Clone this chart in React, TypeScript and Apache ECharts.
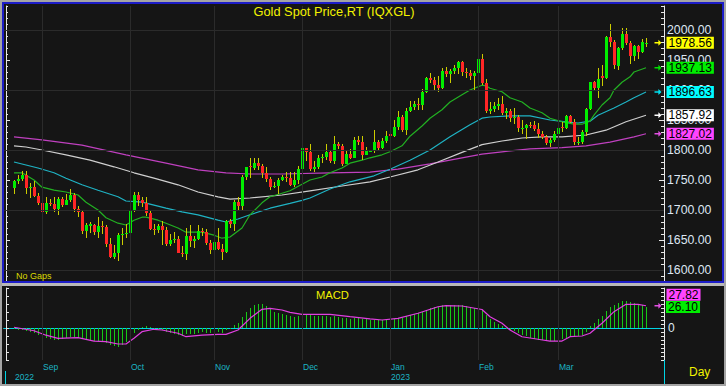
import React, { useEffect, useRef } from "react";
import * as echarts from "echarts";

const FONT = "'Liberation Sans', Arial, Helvetica, sans-serif";

const TITLE = "Gold Spot Price,RT (IQXGL)";
const NOTE = "No Gaps";
const MACD_TITLE = "MACD";
const PERIOD = "Day";
const MONTHS = ["Jan", "Feb", "Mar", "Apr", "May", "Jun", "Jul", "Aug", "Sep", "Oct", "Nov", "Dec"];

// first and last trading day shown (month is 0-based)
const FIRST_DAY = [2022, 7, 23];
const LAST_DAY = [2023, 2, 31];

// daily candles [open, close, low, high]
const OHLC: number[][] = [
  // Aug 2022
  [1736, 1748, 1727, 1750], [1748, 1751, 1743, 1759], [1751, 1758, 1748, 1765], [1758, 1737, 1727, 1765],
  [1737, 1738, 1720, 1745], [1738, 1724, 1721, 1748], [1724, 1711, 1708, 1729],
  // Sep
  [1711, 1697, 1688, 1714], [1697, 1712, 1693, 1721], [1712, 1710, 1706, 1718], [1710, 1702, 1696, 1722],
  [1702, 1718, 1692, 1721], [1718, 1708, 1705, 1722], [1708, 1716, 1708, 1726], [1716, 1725, 1713, 1735],
  [1725, 1702, 1697, 1729], [1702, 1697, 1689, 1707], [1697, 1665, 1660, 1700], [1665, 1675, 1654, 1679],
  [1674, 1676, 1662, 1680], [1675, 1664, 1659, 1677], [1664, 1673, 1654, 1688], [1673, 1671, 1660, 1681],
  [1671, 1644, 1639, 1675], [1644, 1622, 1620, 1654], [1622, 1628, 1618, 1641], [1628, 1659, 1615, 1661],
  [1659, 1660, 1642, 1670], [1660, 1661, 1653, 1676],
  // Oct
  [1661, 1699, 1659, 1702], [1699, 1725, 1697, 1730], [1725, 1716, 1707, 1730], [1716, 1712, 1705, 1722],
  [1712, 1695, 1690, 1722], [1695, 1668, 1666, 1698], [1668, 1666, 1658, 1677], [1666, 1673, 1661, 1677],
  [1673, 1666, 1642, 1682], [1666, 1644, 1640, 1672], [1644, 1650, 1640, 1660], [1650, 1652, 1645, 1663],
  [1652, 1629, 1628, 1656], [1629, 1627, 1621, 1640], [1627, 1657, 1617, 1670], [1657, 1649, 1638, 1675],
  [1649, 1652, 1637, 1657], [1652, 1665, 1650, 1675], [1665, 1663, 1656, 1670], [1663, 1645, 1641, 1668],
  [1645, 1634, 1627, 1650],
  // Nov
  [1634, 1647, 1630, 1655], [1647, 1635, 1633, 1670], [1635, 1630, 1616, 1644], [1630, 1681, 1628, 1683],
  [1681, 1676, 1670, 1685], [1676, 1713, 1665, 1716], [1713, 1706, 1699, 1722], [1706, 1755, 1700, 1758],
  [1755, 1771, 1750, 1772], [1773, 1771, 1753, 1786], [1770, 1779, 1766, 1787], [1779, 1774, 1766, 1786],
  [1774, 1761, 1754, 1776], [1761, 1751, 1747, 1771], [1751, 1738, 1734, 1755], [1738, 1740, 1736, 1746],
  [1740, 1750, 1727, 1754], [1750, 1755, 1748, 1759], [1755, 1754, 1746, 1763], [1754, 1741, 1740, 1764],
  [1741, 1750, 1739, 1763], [1750, 1768, 1744, 1773],
  // Dec
  [1768, 1803, 1765, 1805], [1803, 1797, 1781, 1804], [1797, 1769, 1765, 1810], [1769, 1771, 1764, 1782],
  [1771, 1787, 1768, 1791], [1787, 1789, 1779, 1794], [1789, 1797, 1783, 1810], [1797, 1781, 1778, 1800],
  [1781, 1810, 1777, 1824], [1810, 1807, 1801, 1814], [1807, 1777, 1773, 1810], [1777, 1793, 1776, 1798],
  [1793, 1787, 1785, 1802], [1787, 1817, 1786, 1822], [1817, 1814, 1809, 1823], [1814, 1792, 1784, 1823],
  [1792, 1798, 1792, 1805], [1798, 1798, 1796, 1799], [1798, 1813, 1795, 1833], [1813, 1804, 1798, 1816],
  [1804, 1815, 1802, 1820], [1815, 1824, 1812, 1832],
  // Jan 2023
  [1826, 1824, 1822, 1830], [1824, 1839, 1822, 1850], [1839, 1855, 1833, 1865], [1855, 1833, 1830, 1858],
  [1833, 1865, 1825, 1870], [1865, 1872, 1864, 1881], [1872, 1877, 1867, 1882], [1877, 1875, 1867, 1886],
  [1875, 1896, 1867, 1902], [1896, 1920, 1895, 1922], [1920, 1916, 1911, 1929], [1916, 1908, 1900, 1921],
  [1908, 1904, 1896, 1923], [1904, 1932, 1901, 1936], [1932, 1926, 1922, 1938], [1926, 1931, 1911, 1935],
  [1931, 1937, 1926, 1942], [1937, 1946, 1926, 1949], [1946, 1930, 1924, 1949], [1930, 1928, 1920, 1936],
  [1928, 1923, 1917, 1933], [1923, 1928, 1900, 1931],
  // Feb
  [1928, 1951, 1920, 1959], [1951, 1912, 1908, 1960], [1912, 1865, 1861, 1918], [1865, 1868, 1860, 1880],
  [1868, 1873, 1864, 1880], [1873, 1876, 1866, 1886], [1876, 1861, 1858, 1890], [1861, 1865, 1852, 1870],
  [1865, 1853, 1847, 1868], [1853, 1855, 1843, 1870], [1855, 1836, 1830, 1859], [1836, 1836, 1826, 1850],
  [1836, 1842, 1819, 1844], [1842, 1841, 1837, 1847], [1841, 1835, 1832, 1848], [1835, 1826, 1820, 1845],
  [1826, 1822, 1818, 1832], [1822, 1811, 1808, 1825], [1811, 1817, 1805, 1820], [1817, 1826, 1813, 1832],
  // Mar
  [1826, 1836, 1814, 1841], [1838, 1836, 1830, 1846], [1836, 1856, 1835, 1858], [1856, 1847, 1845, 1858],
  [1847, 1813, 1809, 1852], [1813, 1814, 1809, 1822], [1814, 1830, 1810, 1833], [1830, 1868, 1824, 1870],
  [1868, 1913, 1866, 1914], [1913, 1903, 1898, 1915], [1903, 1918, 1886, 1937], [1923, 1920, 1907, 1941],
  [1920, 1989, 1918, 1990], [1988, 1980, 1971, 2010], [1980, 1942, 1935, 1984], [1940, 1970, 1934, 1972],
  [1970, 1993, 1967, 2003], [1993, 1978, 1975, 2004], [1978, 1957, 1944, 1981], [1957, 1973, 1949, 1975],
  [1973, 1964, 1952, 1975], [1964, 1980, 1962, 1985], [1976, 1978.56, 1972, 1987],
];

// moving averages: [bar index, value]
const MA_GREEN: number[][] = [
  [0, 1762], [2, 1762], [5, 1750], [7, 1738], [10, 1733], [13, 1730], [16, 1725], [18, 1713], [21, 1700],
  [23, 1687], [26, 1678], [28, 1675], [30, 1683], [32, 1688], [33, 1688], [36, 1683], [38, 1678], [41, 1670],
  [43, 1663], [47, 1663], [50, 1658], [52, 1653], [54, 1655], [57, 1670], [59, 1692], [62, 1712], [64, 1722],
  [67, 1728], [69, 1732], [72, 1743], [74, 1750], [77, 1755], [79, 1762], [82, 1770], [84, 1778], [87, 1783],
  [89, 1787], [92, 1792], [94, 1797], [97, 1807], [99, 1823], [102, 1840], [104, 1853], [107, 1867], [109, 1880],
  [112, 1892], [114, 1900], [117, 1908], [118, 1907], [119, 1903], [122, 1897], [124, 1887], [127, 1880],
  [129, 1870], [132, 1862], [134, 1853], [137, 1847], [140, 1843], [142, 1843], [144, 1848], [145, 1858],
  [147, 1875], [149, 1887], [150, 1900], [152, 1913], [154, 1922], [155, 1930], [158, 1937.13],
];
const MA_CYAN: number[][] = [
  [0, 1780], [3, 1775], [6, 1770], [10, 1762], [13, 1753], [17, 1742], [21, 1733], [26, 1722], [28, 1715],
  [32, 1713], [35, 1708], [38, 1703], [42, 1697], [46, 1692], [51, 1683], [53, 1680], [56, 1685], [59, 1692],
  [64, 1703], [69, 1711], [72, 1716], [74, 1720], [79, 1735], [84, 1747], [90, 1757], [94, 1768], [99, 1783],
  [104, 1800], [109, 1822], [114, 1842], [117, 1853], [119, 1855], [124, 1857], [129, 1857], [134, 1850],
  [138, 1847], [141, 1845], [144, 1848], [146, 1858], [150, 1870], [153, 1880], [155, 1887], [158, 1896.63],
];
const MA_WHITE: number[][] = [
  [0, 1807], [3, 1805], [7, 1800], [13, 1792], [19, 1783], [25, 1772], [30, 1762], [35, 1753], [41, 1742],
  [46, 1730], [51, 1722], [54, 1718], [59, 1720], [67, 1725], [74, 1732], [82, 1740], [89, 1747], [94, 1755],
  [101, 1767], [106, 1780], [112, 1796], [117, 1809], [122, 1815], [127, 1820], [132, 1822], [137, 1822],
  [143, 1825], [148, 1833], [153, 1847], [158, 1857.92],
];
const MA_MAGENTA: number[][] = [
  [0, 1822], [7, 1817], [17, 1808], [28, 1792], [38, 1778], [46, 1767], [53, 1762], [59, 1760], [67, 1760],
  [79, 1762], [89, 1763], [96, 1768], [104, 1777], [112, 1787], [117, 1793], [122, 1797], [129, 1802],
  [137, 1804], [143, 1807], [149, 1813], [155, 1822], [158, 1827.02],
];

// MACD histogram, one value per bar
const MACD_HIST: number[] = [
  -1.3, -2.5, -2.5, -3.8, -5, -6.3, -8.8, -11.3, -12.5, -13.8, -15, -15, -13.8, -12.5, -11.3, -11.3, -12.5,
  -13.8, -15, -15, -16.3, -16.3, -17.5, -18.8, -21.3, -22.5, -23.8, -21.3, -17.5, -12.5, -6.3, -2.5, 1.3, 2.5,
  1.3, 0.3, -1.3, -2.5, -5, -6.3, -7.5, -8.8, -10, -7.5, -7.5, -7.5, -6.3, -5, -6.3, -6.3, -5, -5, -6.3, -2.5,
  0.3, 3.8, 6.3, 13.8, 20, 25, 28.8, 30, 30, 27.5, 23.8, 20, 18.8, 17.5, 16.3, 15, 13.8, 15, 17.5, 17.5, 16.3,
  15, 15, 15, 15, 13.8, 15, 13.8, 12.5, 12.5, 11.3, 12.5, 12.5, 11.3, 11.3, 10, 10, 10, 10, 10, 10, 11.3, 12.5,
  12.5, 15, 16.3, 17.5, 18.8, 20, 22.5, 25, 26.3, 26.3, 28.8, 28.8, 28.8, 28.8, 28.8, 28.8, 27.5, 26.3, 25, 25,
  22.5, 16.3, 11.3, 7.5, 5, 2.5, 0.3, -2.5, -3.8, -6.3, -8.8, -10, -12.5, -13.8, -15, -15, -16.3, -16.3, -16.3,
  -15, -13.8, -12.5, -11.3, -11.3, -10, -8.8, -5, 2.5, 6.3, 11.3, 15, 21.3, 26.3, 28.8, 31.3, 33.8, 33.8, 32.5,
  31.3, 30, 28.8, 26.1,
];
// MACD signal line: [bar index, value]
const MACD_SIGNAL: number[][] = [
  [0, 0.9], [5, -3.4], [8, -9], [11, -13], [16, -12.1], [20, -16.3], [23, -17.1], [26, -20], [28, -20],
  [30, -12.9], [32, -4.6], [35, -1.6], [37, -2.5], [41, -6.6], [43, -10.9], [47, -8.8], [51, -7.9], [53, -7.9],
  [56, -2.5], [59, 12.1], [62, 23.4], [64, 24.6], [67, 22.5], [69, 19.6], [72, 17.1], [79, 17.1], [84, 14.1],
  [89, 11.3], [92, 10], [96, 12.1], [101, 18.4], [106, 26.6], [108, 27.9], [112, 27.5], [117, 23.1], [119, 14.1],
  [122, 5.9], [124, -2.5], [127, -10.9], [131, -14.1], [134, -16.3], [137, -16.3], [139, -10.9], [142, -10],
  [144, -6.6], [147, 5.9], [150, 20.4], [153, 29.6], [156, 29.6], [158, 27.82],
];

const PRICE_TICKS = [1600, 1650, 1700, 1750, 1800, 1850, 1900, 1950, 2000];
const PRICE_GRID = [1600, 1700, 1800, 1900, 2000];

const LEAD = 2;
const TRAIL = 4;

const BG = "#151515";
const GRID_C = "#2b2b2b";
const UP = "#00ee00";
const DOWN = "#ff2626";
const WICK = "#cccc00";
const AXIS = "#e8e8e8";
const LABEL_C = "#dde7f3";
const CYAN_TXT = "#1cb4c4";
const CYAN_LINE = "#00d4e4";
const YEL = "#f2f200";
const ARROW = "path://M0,3L5,3L5,0L9,4L5,8L5,5L0,5Z";

function tradingDays(): Date[] {
  const out: Date[] = [];
  const d = new Date(Date.UTC(FIRST_DAY[0], FIRST_DAY[1], FIRST_DAY[2]));
  const end = new Date(Date.UTC(LAST_DAY[0], LAST_DAY[1], LAST_DAY[2]));
  while (d <= end) {
    const wd = d.getUTCDay();
    if (wd !== 0 && wd !== 6) out.push(new Date(d.getTime()));
    d.setUTCDate(d.getUTCDate() + 1);
  }
  return out;
}

function buildOption() {
  const days = tradingDays();
  const cats: string[] = [];
  for (let k = 0; k < LEAD; k++) cats.push("lead" + k);
  days.forEach((d) => cats.push(d.toISOString().slice(0, 10)));
  for (let k = 0; k < TRAIL; k++) cats.push("trail" + k);

  const monthLabel: Record<number, string> = {};
  const yearLabel: Record<number, string> = {};
  const monthStarts: number[] = [];
  let yearTick = -1;
  days.forEach((d, k) => {
    const j = k + LEAD;
    if (k === 0) {
      yearLabel[j] = String(d.getUTCFullYear());
      return;
    }
    const p = days[k - 1];
    if (p.getUTCMonth() !== d.getUTCMonth()) {
      monthStarts.push(j);
      monthLabel[j] = MONTHS[d.getUTCMonth()];
    }
    if (p.getUTCFullYear() !== d.getUTCFullYear()) {
      yearTick = j;
      yearLabel[j] = String(d.getUTCFullYear());
    }
  });

  const badgeJ = cats.length - 2;
  const lastClose = OHLC[OHLC.length - 1][1];

  const badge = (value: number, arrowColor: string, bg: string, text: string, dy = 0, showArrow = true) => ({
    silent: true,
    symbol: ARROW,
    symbolSize: showArrow ? [7, 6] : 0,
    itemStyle: { color: arrowColor },
    animation: false,
    data: [{ coord: [badgeJ, value] }],
    label: {
      show: true,
      position: "right",
      distance: showArrow ? 5 : 8,
      offset: [0, dy],
      formatter: () => text,
      color: "#000",
      backgroundColor: bg,
      fontSize: 12,
      fontFamily: FONT,
      padding: [1, 2, 0, 2],
      lineHeight: 11,
    },
  });

  const maSeries = (name: string, pts: number[][], color: string, arrow: string, bg: string) => ({
    name,
    type: "line",
    xAxisIndex: 0,
    yAxisIndex: 0,
    data: pts.map(([i, v]) => [i + LEAD, v]),
    symbol: "none",
    showSymbol: false,
    silent: true,
    z: 2,
    lineStyle: { color, width: 1.2 },
    markPoint: badge(pts[pts.length - 1][1], arrow, bg, pts[pts.length - 1][1].toFixed(2)),
  });

  const gridMark = (withH: boolean) => ({
    silent: true,
    symbol: ["none", "none"],
    label: { show: false },
    animation: false,
    lineStyle: { color: GRID_C, width: 1, type: "solid" },
    emphasis: { disabled: true },
    data: [
      ...(withH ? PRICE_GRID.map((v) => ({ yAxis: v })) : []),
      ...monthStarts.map((j) => ({ xAxis: cats[j] })),
    ],
  });

  const hiddenX = {
    type: "category",
    data: cats,
    boundaryGap: true,
    axisLine: { show: false },
    axisTick: { show: false },
    axisLabel: { show: false },
    splitLine: { show: false },
  };

  return {
    animation: false,
    backgroundColor: BG,
    grid: [
      { left: 4, right: 62, top: 6, height: 276, containLabel: false },
      { left: 4, right: 62, top: 288, height: 72, containLabel: false },
    ],
    xAxis: [
      { ...hiddenX, gridIndex: 0 },
      {
        ...hiddenX,
        gridIndex: 1,
        axisLine: { show: true, lineStyle: { color: AXIS, width: 1 } },
        axisTick: {
          show: true,
          alignWithLabel: true,
          length: 11,
          interval: (i: number) => monthLabel[i] !== undefined,
          lineStyle: { color: CYAN_LINE },
        },
        axisLabel: {
          show: true,
          interval: (i: number) => monthLabel[i] !== undefined,
          formatter: (_v: string, i: number) => monthLabel[i] || "",
          align: "left",
          margin: 2,
          padding: [0, 0, 0, 1],
          color: CYAN_TXT,
          fontSize: 8.5,
          fontFamily: FONT,
        },
      },
      {
        ...hiddenX,
        gridIndex: 1,
        position: "bottom",
        offset: 11,
        axisLine: { show: true, lineStyle: { color: CYAN_LINE, width: 1 } },
        axisTick: {
          show: true,
          alignWithLabel: true,
          length: 15,
          interval: (i: number) => i === yearTick,
          lineStyle: { color: CYAN_LINE },
        },
        axisLabel: {
          show: true,
          interval: (i: number) => yearLabel[i] !== undefined,
          formatter: (_v: string, i: number) => yearLabel[i] || "",
          align: "left",
          margin: 1,
          padding: [0, 0, 0, 1],
          color: CYAN_TXT,
          fontSize: 8.5,
          fontFamily: FONT,
        },
      },
    ],
    yAxis: [
      {
        type: "value",
        gridIndex: 0,
        position: "right",
        min: 1580,
        max: 2040,
        axisLine: { show: true, lineStyle: { color: AXIS } },
        axisTick: { show: true, inside: true, length: 5, customValues: PRICE_TICKS, lineStyle: { color: AXIS } },
        axisLabel: {
          show: true,
          customValues: PRICE_TICKS,
          formatter: (v: number) => (v % 50 === 0 ? v.toFixed(2) : ""),
          color: LABEL_C,
          fontSize: 12.3,
          fontFamily: FONT,
          margin: 3,
        },
        splitLine: { show: false },
      },
      {
        type: "value",
        gridIndex: 0,
        position: "right",
        min: 1580,
        max: 2040,
        interval: 10,
        axisLine: { show: false },
        axisTick: { show: true, inside: true, length: 3, lineStyle: { color: AXIS } },
        axisLabel: { show: false },
        splitLine: { show: false },
      },
      {
        type: "value",
        gridIndex: 0,
        position: "left",
        offset: -2,
        min: 1580,
        max: 2040,
        axisLine: { show: true, lineStyle: { color: AXIS } },
        axisTick: { show: true, inside: true, length: 4, customValues: PRICE_TICKS, lineStyle: { color: AXIS } },
        axisLabel: { show: false },
        splitLine: { show: false },
      },
      {
        type: "value",
        gridIndex: 0,
        position: "left",
        offset: -2,
        min: 1580,
        max: 2040,
        interval: 10,
        axisLine: { show: false },
        axisTick: { show: true, inside: true, length: 2, lineStyle: { color: AXIS } },
        axisLabel: { show: false },
        splitLine: { show: false },
      },
      {
        type: "value",
        gridIndex: 1,
        position: "left",
        offset: -2,
        min: -40,
        max: 50,
        interval: 10,
        axisLine: { show: true, lineStyle: { color: AXIS } },
        axisTick: { show: true, inside: true, length: 3, lineStyle: { color: AXIS } },
        axisLabel: { show: false },
        splitLine: { show: false },
      },
      {
        type: "value",
        gridIndex: 1,
        position: "right",
        min: -40,
        max: 50,
        interval: 5,
        axisLine: { show: true, lineStyle: { color: AXIS } },
        axisTick: { show: true, inside: true, length: 3, lineStyle: { color: AXIS } },
        axisLabel: {
          show: true,
          customValues: [0],
          formatter: (v: number) => (v === 0 ? "0" : ""),
          color: LABEL_C,
          fontSize: 12,
          fontFamily: FONT,
          margin: 4,
        },
        splitLine: { show: false },
      },
    ],
    series: [
      { type: "line", xAxisIndex: 0, yAxisIndex: 0, data: [], z: 0, silent: true, markLine: gridMark(true) },
      { type: "line", xAxisIndex: 1, yAxisIndex: 4, data: [], z: 0, silent: true, markLine: gridMark(false) },
      maSeries("MA magenta", MA_MAGENTA, "#bf40bf", "#e050e0", "#ff44ff"),
      maSeries("MA white", MA_WHITE, "#cfcfcf", "#ffffff", "#ffffff"),
      maSeries("MA cyan", MA_CYAN, "#1fb3c4", "#00e0f0", "#00ffff"),
      maSeries("MA green", MA_GREEN, "#22b022", "#00dd00", "#00ee00"),
      {
        name: "Gold",
        type: "custom",
        xAxisIndex: 0,
        yAxisIndex: 0,
        z: 3,
        silent: true,
        encode: { x: 0, y: [1, 2, 3, 4] },
        data: OHLC.map(([o, c, l, h], k) => [k + LEAD, o, c, l, h]),
        renderItem: (_p: any, api: any) => {
          const j = api.value(0);
          const o = api.value(1);
          const c = api.value(2);
          const pO = api.coord([j, o]);
          const pC = api.coord([j, c]);
          const pL = api.coord([j, api.value(3)]);
          const pH = api.coord([j, api.value(4)]);
          const cx = Math.round(pO[0]);
          const yTop = Math.round(Math.min(pO[1], pC[1]));
          const yBot = Math.round(Math.max(pO[1], pC[1]));
          const yH = Math.round(pH[1]);
          const yL = Math.round(pL[1]);
          return {
            type: "group",
            children: [
              { type: "rect", shape: { x: cx, y: yH, width: 1, height: Math.max(1, yL - yH) }, style: { fill: WICK } },
              {
                type: "rect",
                shape: { x: cx - 1, y: yTop, width: 3, height: Math.max(1, yBot - yTop) },
                style: { fill: c >= o ? UP : DOWN },
              },
            ],
          };
        },
        markPoint: badge(lastClose, "#ffff00", "#ffff00", lastClose.toFixed(2)),
      },
      {
        name: "MACD",
        type: "custom",
        xAxisIndex: 1,
        yAxisIndex: 4,
        z: 2,
        silent: true,
        encode: { x: 0, y: 1 },
        data: MACD_HIST.map((v, k) => [k + LEAD, v]),
        renderItem: (_p: any, api: any) => {
          const j = api.value(0);
          const p0 = api.coord([j, 0]);
          const p1 = api.coord([j, api.value(1)]);
          const x = Math.round(p0[0]);
          const y0 = Math.round(p0[1]);
          const y1 = Math.round(p1[1]);
          return {
            type: "rect",
            shape: { x, y: Math.min(y0, y1), width: 1, height: Math.max(1, Math.abs(y1 - y0)) },
            style: { fill: "#16c816" },
          };
        },
        markPoint: badge(MACD_HIST[MACD_HIST.length - 1], "#00dd00", "#00ee00", MACD_HIST[MACD_HIST.length - 1].toFixed(2), 0, false),
      },
      {
        name: "Signal",
        type: "line",
        xAxisIndex: 1,
        yAxisIndex: 4,
        z: 3,
        silent: true,
        symbol: "none",
        showSymbol: false,
        data: MACD_SIGNAL.map(([i, v]) => [i + LEAD, v]),
        lineStyle: { color: "#e040e0", width: 1.2 },
        markPoint: badge(
          MACD_SIGNAL[MACD_SIGNAL.length - 1][1],
          "#e050e0",
          "#ff44ff",
          MACD_SIGNAL[MACD_SIGNAL.length - 1][1].toFixed(2),
          -11
        ),
      },
    ],
    graphic: [
      { type: "rect", z: 100, silent: true, shape: { x: 0, y: 0, width: 726, height: 2 }, style: { fill: "#a4a4a4" } },
      { type: "rect", z: 100, silent: true, shape: { x: 0, y: 0, width: 2, height: 386 }, style: { fill: "#a4a4a4" } },
      { type: "rect", z: 100, silent: true, shape: { x: 724, y: 0, width: 2, height: 386 }, style: { fill: "#a4a4a4" } },
      { type: "rect", z: 100, silent: true, shape: { x: 0, y: 384, width: 726, height: 2 }, style: { fill: "#a4a4a4" } },
      { type: "rect", z: 100, silent: true, shape: { x: 2, y: 2, width: 722, height: 2 }, style: { fill: "#1c1cc8" } },
      { type: "rect", z: 100, silent: true, shape: { x: 2, y: 2, width: 2, height: 281 }, style: { fill: "#1c1cc8" } },
      { type: "rect", z: 100, silent: true, shape: { x: 722, y: 2, width: 2, height: 281 }, style: { fill: "#1c1cc8" } },
      { type: "rect", z: 100, silent: true, shape: { x: 2, y: 281, width: 722, height: 2 }, style: { fill: "#1c1cc8" } },
      { type: "rect", z: 100, silent: true, shape: { x: 2, y: 283, width: 722, height: 3 }, style: { fill: "#b8b8b8" } },
      { type: "line", z: 100, silent: true, shape: { x1: 664.5, y1: 360, x2: 664.5, y2: 384 }, style: { stroke: CYAN_LINE, lineWidth: 1 } },
      { type: "line", z: 100, silent: true, shape: { x1: 5.5, y1: 371, x2: 5.5, y2: 384 }, style: { stroke: CYAN_LINE, lineWidth: 1 } },
      {
        type: "text", z: 100, silent: true, x: 334, y: 11,
        style: { text: TITLE, fill: YEL, fontSize: 12.8, fontFamily: FONT, align: "center", verticalAlign: "middle" },
      },
      {
        type: "text", z: 100, silent: true, x: 16, y: 276,
        style: { text: NOTE, fill: "#dada00", fontSize: 9, fontFamily: FONT, align: "left", verticalAlign: "middle" },
      },
      {
        type: "text", z: 100, silent: true, x: 316, y: 295,
        style: { text: MACD_TITLE, fill: YEL, fontSize: 11.2, fontFamily: FONT, align: "left", verticalAlign: "middle" },
      },
      {
        type: "text", z: 100, silent: true, x: 689, y: 372,
        style: { text: PERIOD, fill: YEL, fontSize: 12, fontFamily: FONT, align: "left", verticalAlign: "middle" },
      },
    ],
  };
}

export default function App() {
  const ref = useRef<HTMLDivElement>(null);
  useEffect(() => {
    if (!ref.current) return;
    const chart = echarts.init(ref.current, null, { renderer: "svg", width: 726, height: 386 });
    chart.setOption(buildOption() as any);
    return () => {
      chart.dispose();
    };
  }, []);
  return <div ref={ref} style={{ position: "fixed", left: 0, top: 0, width: 726, height: 386 }} />;
}
